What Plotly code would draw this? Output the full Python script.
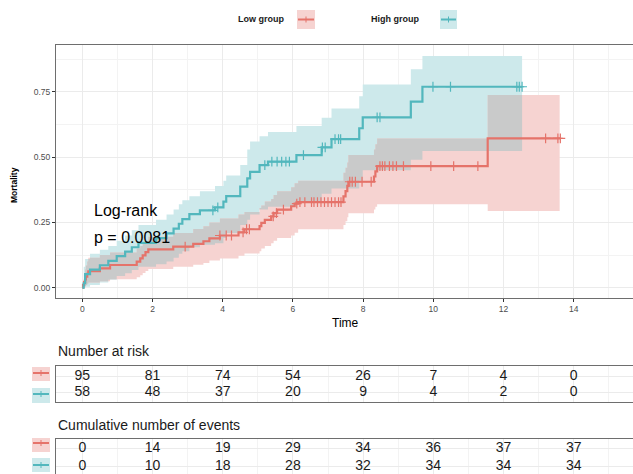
import numpy as np
import plotly.graph_objects as go

# ---------------- data ----------------
high_t  = [0, 0.04, 0.08, 0.22, 0.5, 0.74, 0.98, 1.22, 1.41, 1.6, 2.1, 2.4, 2.6, 2.75, 2.85, 3.05, 3.35, 3.78,
           4.02, 4.1, 4.5, 4.7, 4.78, 5.05, 5.29, 6.1, 6.82, 7.1, 7.89, 7.99, 9.36, 9.69]
high_m  = [0, 0.017, 0.052, 0.069, 0.086, 0.103, 0.121, 0.138, 0.155, 0.172, 0.19, 0.208, 0.226, 0.245, 0.263,
           0.282, 0.296, 0.308, 0.33, 0.351, 0.387, 0.419, 0.444, 0.47, 0.483, 0.508, 0.538, 0.569, 0.611, 0.653,
           0.713, 0.770]
high_lo = [0, 0, 0.004, 0.01, 0.02, 0.03, 0.045, 0.055, 0.068, 0.08, 0.09, 0.1, 0.115, 0.13, 0.14, 0.155, 0.165,
           0.17, 0.19, 0.21, 0.24, 0.26, 0.28, 0.3, 0.31, 0.33, 0.36, 0.38, 0.41, 0.45, 0.49, 0.524]
high_hi = [0, 0.08, 0.11, 0.13, 0.145, 0.16, 0.18, 0.2, 0.22, 0.24, 0.26, 0.28, 0.3, 0.32, 0.335, 0.35, 0.37,
           0.39, 0.41, 0.43, 0.47, 0.53, 0.56, 0.58, 0.597, 0.62, 0.651, 0.687, 0.734, 0.779, 0.837, 0.888]
high_end = 12.53
high_cens = [3.72, 3.86, 5.2, 5.4, 5.55, 5.68, 5.8, 5.9, 6.3, 6.84, 6.92, 7.2, 7.3, 7.36, 8.4, 8.48,
             9.99, 10.49, 12.38, 12.45, 12.53]

low_t  = [0, 0.02, 0.05, 0.08, 0.1, 0.14, 0.17, 0.5, 0.79, 1.55, 1.65, 1.72, 1.8, 1.88, 2.59, 3.16, 3.45, 3.62,
          3.92, 4.45, 4.62, 5.05, 5.1, 5.2, 5.38, 5.45, 5.55, 5.95, 6.05, 6.15, 7.44, 7.5, 7.55, 7.58, 8.31, 8.35,
          8.4, 11.55]
low_m  = [0, 0.011, 0.021, 0.032, 0.042, 0.053, 0.063, 0.074, 0.087, 0.1, 0.112, 0.124, 0.136, 0.147, 0.157,
          0.168, 0.178, 0.189, 0.2, 0.212, 0.224, 0.236, 0.248, 0.26, 0.273, 0.286, 0.299, 0.312, 0.322, 0.328,
          0.35, 0.37, 0.39, 0.406, 0.426, 0.446, 0.466, 0.572]
low_lo = [0, 0, 0.002, 0.006, 0.01, 0.015, 0.02, 0.025, 0.032, 0.04, 0.048, 0.056, 0.064, 0.072, 0.08, 0.088,
          0.095, 0.104, 0.112, 0.122, 0.131, 0.14, 0.15, 0.16, 0.17, 0.18, 0.19, 0.2, 0.211, 0.224, 0.24, 0.255,
          0.27, 0.285, 0.3, 0.31, 0.32, 0.294]
low_hi = [0, 0.03, 0.05, 0.07, 0.085, 0.1, 0.115, 0.125, 0.135, 0.15, 0.16, 0.17, 0.18, 0.195, 0.21, 0.225,
          0.235, 0.25, 0.265, 0.28, 0.29, 0.305, 0.315, 0.33, 0.34, 0.355, 0.37, 0.385, 0.4, 0.41, 0.44, 0.46,
          0.48, 0.508, 0.53, 0.55, 0.572, 0.738]
low_end = 13.6
low_cens = [2.93, 3.92, 4.1, 4.25, 4.58, 4.68, 4.76, 5.44, 5.53, 5.73, 6.11, 6.2, 6.34, 6.53, 6.6, 6.7, 6.8,
            6.9, 7.0, 7.1, 7.2, 7.3, 7.37, 7.62, 7.69, 7.78, 7.97, 8.23, 8.48, 8.55, 8.62, 8.75, 8.85, 8.95,
            9.15, 9.93, 10.58, 11.27, 13.2, 13.55, 13.62]

table_times = [0, 2, 4, 6, 8, 10, 12, 14]
risk_low  = [95, 81, 74, 54, 26, 7, 4, 0]
risk_high = [58, 48, 37, 20, 9, 4, 2, 0]
events_low  = [0, 14, 19, 29, 34, 36, 37, 37]
events_high = [0, 10, 18, 28, 32, 34, 34, 34]

group_names = ["Low group", "High group"]
pvalue_text = ["Log-rank", "p = 0.0081"]

# ---------------- styles ----------------
RED, CYAN = "#E5736A", "#52B7BD"
RED_FILL, CYAN_FILL, OVER_FILL = "#F6D3D1", "#CDE9EB", "#C9CACA"
GRID = "#EBEBEB"
FONT = "Liberation Sans, Arial, sans-serif"
W, H = 633, 474


def step_eval(times, vals, t):
    times = np.asarray(times); vals = np.asarray(vals)
    idx = np.searchsorted(times, np.asarray(t), side="right") - 1
    return vals[np.clip(idx, 0, len(vals) - 1)]


def ext(times, vals, end):
    return list(times) + [end], list(vals) + [vals[-1]]


fig = go.Figure()

# bands
for t, lo, hi, end, col in [(high_t, high_lo, high_hi, high_end, CYAN_FILL),
                            (low_t, low_lo, low_hi, low_end, RED_FILL)]:
    x, ylo = ext(t, lo, end)
    _, yhi = ext(t, hi, end)
    fig.add_trace(go.Scatter(x=x, y=ylo, mode="lines", line=dict(width=0, shape="hv"),
                             hoverinfo="skip", showlegend=False))
    fig.add_trace(go.Scatter(x=x, y=yhi, mode="lines", line=dict(width=0, shape="hv"),
                             fill="tonexty", fillcolor=col, hoverinfo="skip", showlegend=False))

# overlap region
common_end = min(high_end, low_end)
grid_t = np.unique(np.concatenate([high_t, low_t]))
grid_t = grid_t[grid_t < common_end]
ov_lo = np.maximum(step_eval(low_t, low_lo, grid_t), step_eval(high_t, high_lo, grid_t))
ov_hi = np.minimum(step_eval(low_t, low_hi, grid_t), step_eval(high_t, high_hi, grid_t))
ov_hi = np.maximum(ov_hi, ov_lo)
gx = list(grid_t) + [common_end]
fig.add_trace(go.Scatter(x=gx, y=list(ov_lo) + [ov_lo[-1]], mode="lines",
                         line=dict(width=0, shape="hv"), hoverinfo="skip", showlegend=False))
fig.add_trace(go.Scatter(x=gx, y=list(ov_hi) + [ov_hi[-1]], mode="lines",
                         line=dict(width=0, shape="hv"), fill="tonexty", fillcolor=OVER_FILL,
                         hoverinfo="skip", showlegend=False))

# curves + censor marks
for t, m, end, cens, col, name in [(low_t, low_m, low_end, low_cens, RED, group_names[0]),
                                   (high_t, high_m, high_end, high_cens, CYAN, group_names[1])]:
    x, y = ext(t, m, max(end, max(cens)))
    fig.add_trace(go.Scatter(x=x, y=y, mode="lines", line=dict(color=col, width=2.2, shape="hv"),
                             name=name, showlegend=False))
    fig.add_trace(go.Scatter(x=cens, y=step_eval(t, m, cens), mode="markers",
                             marker=dict(symbol="cross-thin", size=7, line=dict(color=col, width=1.2)),
                             showlegend=False, hoverinfo="skip"))

# tables
for rows, xa, ya in [((risk_low, risk_high), "x2", "y2"), ((events_low, events_high), "x3", "y3")]:
    for vals, ypos in zip(rows, [2, 1]):
        fig.add_trace(go.Scatter(x=table_times, y=[ypos] * len(vals), mode="text",
                                 text=[str(v) for v in vals], xaxis=xa, yaxis=ya,
                                 textfont=dict(family=FONT, size=14, color="#1a1a1a"),
                                 showlegend=False, hoverinfo="skip", cliponaxis=False))

XR = [-0.75, 15.69]
x0 = 56 / W


def py(px):
    return 1 - px / H


axis_common = dict(range=XR, showgrid=True, gridcolor=GRID, gridwidth=1,
                   minor=dict(showgrid=True, gridcolor="#F3F3F3", gridwidth=0.6, dtick=1),
                   dtick=2, tick0=0, zeroline=False, showline=True, linecolor="#6e6e6e",
                   linewidth=1, mirror=True, automargin=False)

fig.update_layout(
    width=W, height=H, margin=dict(l=0, r=0, t=0, b=0, autoexpand=False),
    paper_bgcolor="white", plot_bgcolor="white",
    font=dict(family=FONT),
    xaxis=dict(domain=[x0, 1], anchor="y", ticks="outside", ticklen=3, tickcolor="#333",
               tickfont=dict(size=8.5, color="#4d4d4d"), **axis_common),
    yaxis=dict(domain=[py(298), py(45)], range=[-0.0395, 0.93], tickvals=[0, 0.25, 0.5, 0.75],
               ticktext=["0.00", "0.25", "0.50", "0.75"], ticks="outside", ticklen=3, tickcolor="#333",
               tickfont=dict(size=8.5, color="#4d4d4d"), showgrid=True, gridcolor=GRID,
               minor=dict(showgrid=True, gridcolor="#F3F3F3", gridwidth=0.6, tickvals=[0.125, 0.375, 0.625, 0.875]),
               zeroline=False, showline=True, linecolor="#6e6e6e", linewidth=1, mirror=False,
               automargin=False),
    xaxis2=dict(domain=[x0, 1], anchor="y2", showticklabels=False, ticks="", **axis_common),
    yaxis2=dict(domain=[py(402), py(366)], range=[0.375, 2.625], tickvals=[1, 2], showticklabels=False,
                showgrid=True, gridcolor=GRID, zeroline=False, showline=True, linecolor="#6e6e6e",
                linewidth=1, automargin=False),
    xaxis3=dict(domain=[x0, 1], anchor="y3", showticklabels=False, ticks="", **axis_common),
    yaxis3=dict(domain=[0, py(439)], range=[0.543, 2.543], tickvals=[1, 2], showticklabels=False,
                showgrid=True, gridcolor=GRID, zeroline=False, showline=True, linecolor="#6e6e6e",
                linewidth=1, automargin=False),
)

ann = []
M = dict(yanchor="middle", showarrow=False)
# axis titles
ann.append(dict(text="Time", x=345 / W, y=py(323), xref="paper", yref="paper", xanchor="center",
                font=dict(size=12, color="black"), **M))
ann.append(dict(text="<b>Mortality</b>", x=14 / W, y=py(185), xref="paper", yref="paper", xanchor="center",
                textangle=-90, font=dict(size=8.5, color="black"), **M))
# log-rank
ann.append(dict(text=pvalue_text[0], x=0.28, y=(287.7 - 210) / 261, xref="x", yref="y", xanchor="left",
                font=dict(size=16, color="black"), **M))
ann.append(dict(text=pvalue_text[1], x=0.28, y=(287.7 - 237) / 261, xref="x", yref="y", xanchor="left",
                font=dict(size=16, color="black"), **M))
# table titles
ann.append(dict(text="Number at risk", x=56 / W, y=py(351), xref="paper", yref="paper", xanchor="left",
                font=dict(size=14, color="#1a1a1a"), **M))
ann.append(dict(text="Cumulative number of events", x=56 / W, y=py(425), xref="paper", yref="paper",
                xanchor="left", font=dict(size=14, color="#1a1a1a"), **M))
# top legend
ann.append(dict(text="<b>" + group_names[0] + "</b>", x=286 / W, y=py(19), xref="paper", yref="paper",
                xanchor="right", font=dict(size=9, color="#1a1a1a"), **M))
ann.append(dict(text="<b>" + group_names[1] + "</b>", x=421 / W, y=py(19), xref="paper", yref="paper",
                xanchor="right", font=dict(size=9, color="#1a1a1a"), **M))

shapes = []


def icon(xl, xr, yt, yb, yl, fill, col):
    shapes.append(dict(type="rect", xref="paper", yref="paper", x0=xl / W, x1=xr / W, y0=py(yb), y1=py(yt),
                       fillcolor=fill, line=dict(width=0), layer="above"))
    shapes.append(dict(type="line", xref="paper", yref="paper", x0=(xl + 1) / W, x1=(xr - 1) / W,
                       y0=py(yl), y1=py(yl), line=dict(color=col, width=2), layer="above"))
    xm = (xl + xr) / 2
    shapes.append(dict(type="line", xref="paper", yref="paper", x0=xm / W, x1=xm / W,
                       y0=py(yl - 3), y1=py(yl + 3), line=dict(color=col, width=1), layer="above"))


icon(297, 315, 10, 29, 19.5, RED_FILL, RED)
icon(440, 457, 10, 29, 19.5, CYAN_FILL, CYAN)
icon(32, 50, 367, 381, 373, RED_FILL, RED)
icon(32, 50, 388, 403, 394, CYAN_FILL, CYAN)
icon(32, 50, 438, 452, 443, RED_FILL, RED)
icon(32, 50, 458, 472, 465, CYAN_FILL, CYAN)

fig.update_layout(annotations=ann, shapes=shapes)

fig.write_html("out.html", config={"displayModeBar": False},
               post_script="document.body.style.margin='0';document.body.style.overflow='hidden';")
